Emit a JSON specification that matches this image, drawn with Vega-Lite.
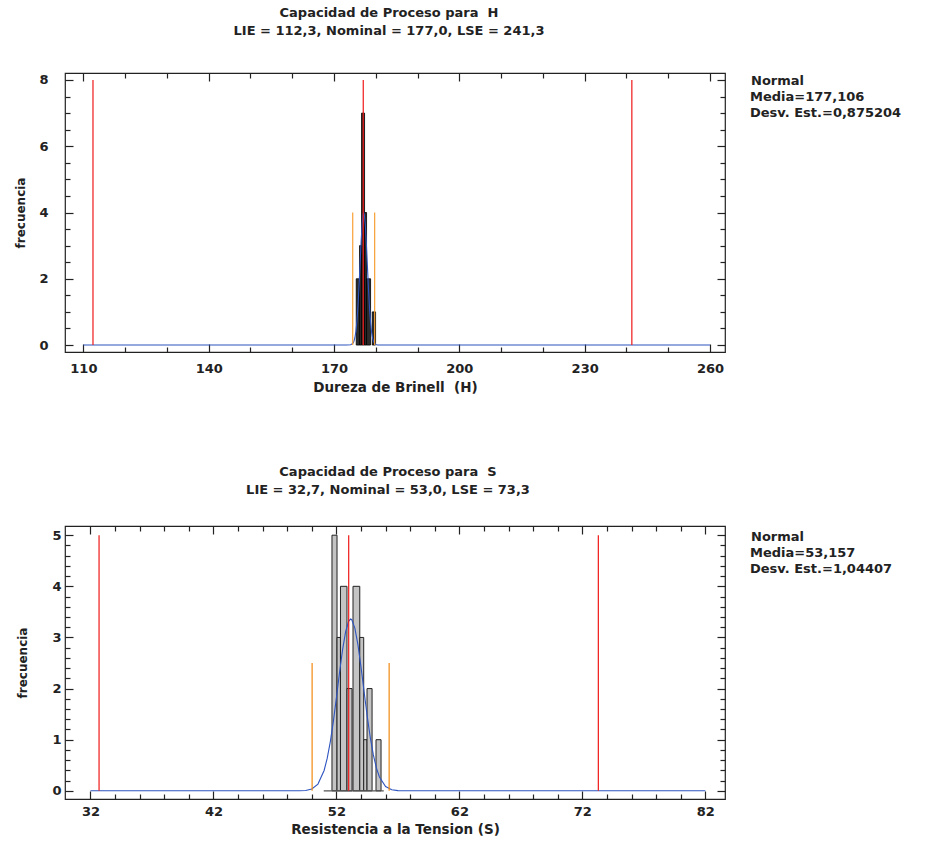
{
  "$schema": "https://vega.github.io/schema/vega-lite/v6.json",
  "padding": {"left": 14, "top": 6, "right": 0, "bottom": 0},
  "background": "white",
  "config": {
    "font": "DejaVu Sans",
    "view": {"stroke": "#222", "strokeWidth": 1.2},
    "axis": {
      "domain": false, "grid": false,
      "labelFont": "DejaVu Sans", "labelFontSize": 13, "labelFontWeight": "bold", "labelColor": "#222",
      "titleFont": "DejaVu Sans", "titleFontSize": 13.5, "titleFontWeight": "bold", "titleColor": "#222",
      "tickColor": "#222", "tickWidth": 1.2, "labelFlush": false, "labelOverlap": false
    },
    "legend": {
      "orient": "right", "offset": 25, "padding": 0,
      "symbolSize": 0, "symbolStrokeWidth": 0, "symbolOpacity": 0, "labelOffset": -14,
      "titleFont": "DejaVu Sans", "labelFont": "DejaVu Sans",
      "titleFontSize": 13, "labelFontSize": 13, "titleFontWeight": "bold", "labelFontWeight": "bold",
      "titleColor": "#222", "labelColor": "#222", "rowPadding": 2, "titlePadding": 2, "labelLimit": 400
    },
    "title": {"font": "DejaVu Sans", "fontSize": 13, "fontWeight": "bold", "color": "#222", "lineHeight": 18}
  },
  "columns": 1,
  "align": "none",
  "spacing": 70,
  "resolve": {"scale": {"color": "independent"}, "legend": {"color": "independent"}},
  "concat": [
    {
      "width": 660, "height": 279,
      "title": {"text": ["Capacidad de Proceso para\u00a0 H", "LIE = 112,3, Nominal = 177,0, LSE = 241,3"], "frame": "group", "offset": 34, "dx": -6},
      "resolve": {"axis": {"x": "independent", "y": "independent"}},
      "layer": [
        {
          "data": {"values": [
            {"x0": 175.32, "x1": 176.11, "n": 2, "base": 0},
            {"x0": 176.11, "x1": 176.59, "n": 3, "base": 0},
            {"x0": 176.59, "x1": 177.31, "n": 7, "base": 0},
            {"x0": 177.31, "x1": 177.79, "n": 4, "base": 0},
            {"x0": 177.79, "x1": 178.75, "n": 2, "base": 0},
            {"x0": 179.16, "x1": 179.95, "n": 1, "base": 0}
          ]},
          "mark": {"type": "rect", "fill": "#2a2a2a", "stroke": "#000", "strokeWidth": 0.8},
          "encoding": {
            "x": {"field": "x0", "type": "quantitative", "scale": {"domain": [105.6, 263.6], "nice": false, "zero": false},
              "axis": {"orient": "bottom", "values": [110, 140, 170, 200, 230, 260], "tickSize": -8, "labelPadding": 18, "title": "Dureza de Brinell\u00a0 (H)", "titlePadding": 5}},
            "x2": {"field": "x1"},
            "y": {"field": "n", "type": "quantitative", "scale": {"domain": [-0.21, 8.21], "nice": false, "zero": false},
              "axis": {"orient": "left", "values": [0, 2, 4, 6, 8], "tickSize": -8, "labelPadding": 25, "title": "frecuencia", "titleFontSize": 12, "titlePadding": 11}},
            "y2": {"field": "base"}
          }
        },
        {
          "data": {"values": [
            {"x": 110, "y": 0}, {"x": 170, "y": 0}, {"x": 172, "y": 0}, {"x": 173, "y": 0.0001},
            {"x": 174, "y": 0.0074}, {"x": 174.5, "y": 0.047}, {"x": 174.75, "y": 0.107}, {"x": 175, "y": 0.221},
            {"x": 175.25, "y": 0.422}, {"x": 175.5, "y": 0.742}, {"x": 175.75, "y": 1.204}, {"x": 176, "y": 1.8},
            {"x": 176.25, "y": 2.479}, {"x": 176.5, "y": 3.15}, {"x": 176.75, "y": 3.682}, {"x": 177, "y": 3.97},
            {"x": 177.106, "y": 4.0}, {"x": 177.25, "y": 3.946}, {"x": 177.5, "y": 3.61}, {"x": 177.75, "y": 3.051},
            {"x": 178, "y": 2.37}, {"x": 178.25, "y": 1.702}, {"x": 178.5, "y": 1.12}, {"x": 178.75, "y": 0.685},
            {"x": 179, "y": 0.384}, {"x": 179.25, "y": 0.199}, {"x": 179.5, "y": 0.095}, {"x": 180, "y": 0.017},
            {"x": 180.5, "y": 0.002}, {"x": 181, "y": 0.0001}, {"x": 183, "y": 0}, {"x": 260, "y": 0}
          ]},
          "mark": {"type": "line", "color": "#2f55c0", "strokeWidth": 1.1},
          "encoding": {
            "x": {"field": "x", "type": "quantitative",
              "axis": {"orient": "bottom", "values": [120, 130, 150, 160, 180, 190, 210, 220, 240, 250], "tickSize": -5, "labels": false, "title": null}},
            "y": {"field": "y", "type": "quantitative",
              "axis": {"orient": "left", "values": [0.5, 1, 1.5, 2.5, 3, 3.5, 4.5, 5, 5.5, 6.5, 7, 7.5], "tickSize": -5, "labels": false, "title": null}}
          }
        },
        {
          "data": {"values": [
            {"x": 112.3, "y0": 0, "y1": 8}, {"x": 177.0, "y0": 0, "y1": 8}, {"x": 241.3, "y0": 0, "y1": 8}
          ]},
          "mark": {"type": "rule", "color": "#f01818", "strokeWidth": 1.2},
          "encoding": {
            "x": {"field": "x", "type": "quantitative",
              "axis": {"orient": "top", "values": [110, 140, 170, 200, 230, 260], "tickSize": -8, "labels": false, "title": null}},
            "y": {"field": "y0", "type": "quantitative",
              "axis": {"orient": "right", "values": [0, 2, 4, 6, 8], "tickSize": -8, "labels": false, "title": null}},
            "y2": {"field": "y1"}
          }
        },
        {
          "data": {"values": [
            {"x": 174.48, "y0": 0, "y1": 4}, {"x": 179.73, "y0": 0, "y1": 4}
          ]},
          "mark": {"type": "rule", "color": "#f7a035", "strokeWidth": 1.2},
          "encoding": {
            "x": {"field": "x", "type": "quantitative",
              "axis": {"orient": "top", "values": [120, 130, 150, 160, 180, 190, 210, 220, 240, 250], "tickSize": -5, "labels": false, "title": null}},
            "y": {"field": "y0", "type": "quantitative",
              "axis": {"orient": "right", "values": [0.5, 1, 1.5, 2.5, 3, 3.5, 4.5, 5, 5.5, 6.5, 7, 7.5], "tickSize": -5, "labels": false, "title": null}},
            "y2": {"field": "y1"}
          }
        },
        {
          "data": {"values": [{"stat": "Media=177,106"}, {"stat": "Desv. Est.=0,875204"}]},
          "mark": {"type": "point", "opacity": 0},
          "encoding": {
            "color": {"field": "stat", "type": "nominal", "sort": null, "scale": {"range": ["transparent", "transparent"]},
              "legend": {"title": "Normal", "padding": 2, "offset": 23}}
          }
        }
      ]
    },
    {
      "width": 660, "height": 273,
      "title": {"text": ["Capacidad de Proceso para\u00a0 S", "LIE = 32,7, Nominal = 53,0, LSE = 73,3"], "frame": "group", "offset": 28, "dx": -7},
      "resolve": {"axis": {"x": "independent", "y": "independent"}},
      "layer": [
        {
          "data": {"values": [
            {"x0": 51.64, "x1": 52.05, "n": 5, "base": 0},
            {"x0": 52.05, "x1": 52.33, "n": 3, "base": 0},
            {"x0": 52.33, "x1": 52.86, "n": 4, "base": 0},
            {"x0": 52.86, "x1": 53.27, "n": 2, "base": 0},
            {"x0": 53.35, "x1": 53.9, "n": 4, "base": 0},
            {"x0": 53.9, "x1": 54.22, "n": 3, "base": 0},
            {"x0": 54.22, "x1": 54.49, "n": 1, "base": 0},
            {"x0": 54.49, "x1": 54.9, "n": 2, "base": 0},
            {"x0": 55.22, "x1": 55.63, "n": 1, "base": 0}
          ]},
          "mark": {"type": "rect", "fill": "#c4c4c4", "stroke": "#222", "strokeWidth": 1},
          "encoding": {
            "x": {"field": "x0", "type": "quantitative", "scale": {"domain": [29.93, 83.6], "nice": false, "zero": false},
              "axis": {"orient": "bottom", "values": [32, 42, 52, 62, 72, 82], "tickSize": -8, "labelPadding": 14, "title": "Resistencia a la Tension (S)", "titlePadding": 4}},
            "x2": {"field": "x1"},
            "y": {"field": "n", "type": "quantitative", "scale": {"domain": [-0.16, 5.18], "nice": false, "zero": false},
              "axis": {"orient": "left", "values": [0, 1, 2, 3, 4, 5], "tickSize": -8, "labelPadding": 12, "title": "frecuencia", "titleFontSize": 12, "titlePadding": 22}},
            "y2": {"field": "base"}
          }
        },
        {
          "data": {"values": [{"x": 50.97, "x2": 55.85, "y": 0}]},
          "mark": {"type": "rule", "color": "#555", "strokeWidth": 1.2},
          "encoding": {
            "x": {"field": "x", "type": "quantitative", "axis": null},
            "x2": {"field": "x2"},
            "y": {"field": "y", "type": "quantitative", "axis": null}
          }
        },
        {
          "data": {"values": [
            {"x": 32, "y": 0}, {"x": 46, "y": 0}, {"x": 48, "y": 0}, {"x": 48.5, "y": 0.0002}, {"x": 49, "y": 0.0012},
            {"x": 49.5, "y": 0.0073}, {"x": 50, "y": 0.035}, {"x": 50.5, "y": 0.132}, {"x": 51, "y": 0.398},
            {"x": 51.25, "y": 0.634}, {"x": 51.5, "y": 0.954}, {"x": 51.75, "y": 1.355}, {"x": 52, "y": 1.818},
            {"x": 52.25, "y": 2.304}, {"x": 52.5, "y": 2.757}, {"x": 52.75, "y": 3.114}, {"x": 53, "y": 3.322},
            {"x": 53.157, "y": 3.36}, {"x": 53.25, "y": 3.347}, {"x": 53.5, "y": 3.184}, {"x": 53.75, "y": 2.859},
            {"x": 54, "y": 2.425}, {"x": 54.25, "y": 1.942}, {"x": 54.5, "y": 1.469}, {"x": 54.75, "y": 1.049},
            {"x": 55, "y": 0.708}, {"x": 55.25, "y": 0.45}, {"x": 55.5, "y": 0.271}, {"x": 56, "y": 0.0825},
            {"x": 56.5, "y": 0.02}, {"x": 57, "y": 0.0038}, {"x": 57.5, "y": 0.0006}, {"x": 58, "y": 0}, {"x": 82, "y": 0}
          ]},
          "mark": {"type": "line", "color": "#2f55c0", "strokeWidth": 1.1},
          "encoding": {
            "x": {"field": "x", "type": "quantitative",
              "axis": {"orient": "bottom", "values": [34, 36, 38, 40, 44, 46, 48, 50, 54, 56, 58, 60, 64, 66, 68, 70, 74, 76, 78, 80], "tickSize": -5, "labels": false, "title": null}},
            "y": {"field": "y", "type": "quantitative",
              "axis": {"orient": "left", "values": [0.2, 0.4, 0.6, 0.8, 1.2, 1.4, 1.6, 1.8, 2.2, 2.4, 2.6, 2.8, 3.2, 3.4, 3.6, 3.8, 4.2, 4.4, 4.6, 4.8], "tickSize": -5, "labels": false, "title": null}}
          }
        },
        {
          "data": {"values": [
            {"x": 32.7, "y0": 0, "y1": 5}, {"x": 53.0, "y0": 0, "y1": 5}, {"x": 73.3, "y0": 0, "y1": 5}
          ]},
          "mark": {"type": "rule", "color": "#f01818", "strokeWidth": 1.2},
          "encoding": {
            "x": {"field": "x", "type": "quantitative",
              "axis": {"orient": "top", "values": [32, 42, 52, 62, 72, 82], "tickSize": -8, "labels": false, "title": null}},
            "y": {"field": "y0", "type": "quantitative",
              "axis": {"orient": "right", "values": [0, 1, 2, 3, 4, 5], "tickSize": -8, "labels": false, "title": null}},
            "y2": {"field": "y1"}
          }
        },
        {
          "data": {"values": [
            {"x": 50.025, "y0": 0, "y1": 2.5}, {"x": 56.289, "y0": 0, "y1": 2.5}
          ]},
          "mark": {"type": "rule", "color": "#f08a10", "strokeWidth": 1.2},
          "encoding": {
            "x": {"field": "x", "type": "quantitative",
              "axis": {"orient": "top", "values": [34, 36, 38, 40, 44, 46, 48, 50, 54, 56, 58, 60, 64, 66, 68, 70, 74, 76, 78, 80], "tickSize": -5, "labels": false, "title": null}},
            "y": {"field": "y0", "type": "quantitative",
              "axis": {"orient": "right", "values": [0.2, 0.4, 0.6, 0.8, 1.2, 1.4, 1.6, 1.8, 2.2, 2.4, 2.6, 2.8, 3.2, 3.4, 3.6, 3.8, 4.2, 4.4, 4.6, 4.8], "tickSize": -5, "labels": false, "title": null}},
            "y2": {"field": "y1"}
          }
        },
        {
          "data": {"values": [{"stat2": "Media=53,157"}, {"stat2": "Desv. Est.=1,04407"}]},
          "mark": {"type": "point", "opacity": 0},
          "encoding": {
            "color": {"field": "stat2", "type": "nominal", "sort": null, "scale": {"range": ["transparent", "transparent"]},
              "legend": {"title": "Normal", "padding": 5, "offset": 20}}
          }
        }
      ]
    }
  ]
}
